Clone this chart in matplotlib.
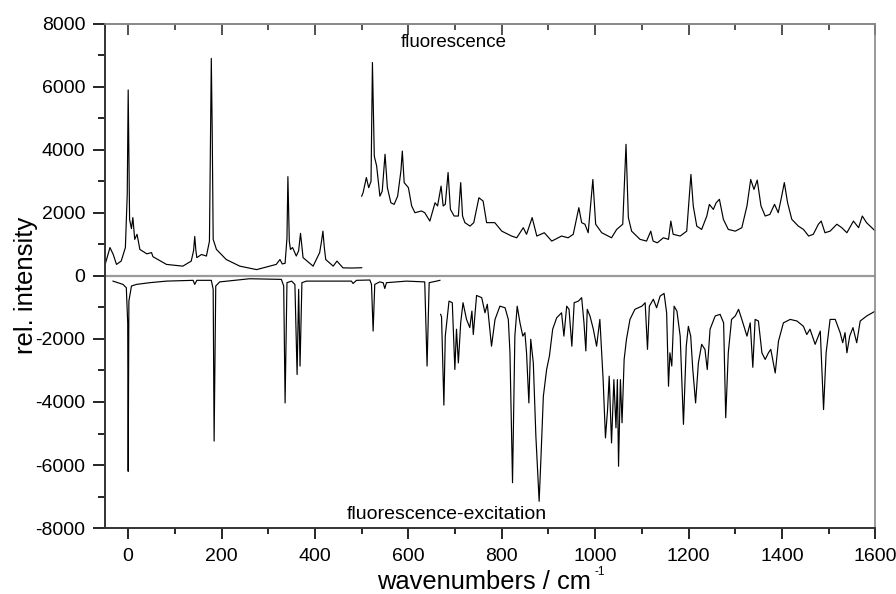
import matplotlib
matplotlib.use("Agg")
import matplotlib.pyplot as plt
from matplotlib.ticker import MultipleLocator

plt.rcParams['font.family'] = ['Liberation Sans', 'DejaVu Sans']

# Fluorescence, low-frequency segment
fl1_x = [-50, -39, -32, -25, -15, -6, -2, 0, 3, 7, 10, 14, 19, 25, 40, 50, 53, 82, 117, 135, 140, 142.5, 145, 147,
         157, 167.5, 174, 178, 180, 182, 189, 210, 239, 275, 317, 325, 330, 336, 340, 342, 345, 347.5, 352, 360,
         365, 369, 374.5, 396, 410, 414, 417, 420, 423, 439, 447, 460, 480, 500]
fl1_y = [330, 900, 680, 365, 470, 900, 2600, 5900, 1790, 1500, 1850, 1160, 1320, 840, 700, 740, 610, 365, 310, 470,
         800, 1250, 800, 580, 680, 630, 1100, 6900, 4500, 1160, 840, 520, 310, 200, 365, 520, 380, 400, 1200, 3150,
         1100, 840, 900, 630, 800, 1350, 580, 310, 740, 1100, 1420, 900, 520, 310, 470, 255, 250, 260]

# Fluorescence, high-frequency segment
fl2_x = [500, 503, 510, 515, 520, 523, 527, 532, 539, 544, 550, 555, 562.5, 569.5, 577, 584, 587, 591, 600, 607,
         614, 628, 635, 646, 657, 662.5, 670, 674.5, 679, 685, 690, 698, 707, 712, 716, 721, 732, 740, 751, 760,
         767.5, 778, 785, 800, 821, 832, 846, 853, 865, 875, 891, 907, 928, 942, 953, 965, 971, 978, 985, 995,
         1001, 1014, 1035, 1046, 1059, 1066, 1071, 1078, 1096, 1110, 1119, 1124, 1133, 1146, 1157, 1162, 1167,
         1182, 1196, 1205, 1210, 1217.5, 1228, 1239, 1244.5, 1253, 1259, 1266, 1274.5, 1285, 1300, 1314, 1325,
         1333, 1340, 1347, 1355, 1364, 1374, 1384, 1392, 1398, 1405, 1412, 1421, 1435, 1446, 1457, 1467, 1478,
         1484, 1492, 1503, 1517.5, 1528, 1539, 1553, 1564, 1572, 1581, 1600]
fl2_y = [2530, 2640, 3120, 2800, 3000, 6770, 3800, 3490, 2530, 2690, 3860, 2800, 2320, 2270, 2530, 3330, 3960, 2960,
         2800, 2220, 2005, 2060, 2005, 1740, 2320, 2220, 2850, 2220, 2270, 3280, 2110, 1900, 1900, 2960, 1900, 1690,
         1580, 1690, 2480, 2375, 1690, 1690, 1690, 1420, 1265, 1210, 1530, 1320, 1850, 1265, 1370, 1105, 1265, 1210,
         1320, 2165, 1690, 1640, 1370, 3060, 1640, 1370, 1210, 1475, 1640, 4175, 1850, 1420, 1160, 1105, 1420, 1105,
         1050, 1210, 1160, 1740, 1320, 1265, 1420, 3220, 2220, 1580, 1475, 1900, 2270, 2110, 2320, 2430, 1795, 1475,
         1420, 1530, 2220, 3060, 2745, 3040, 2220, 1900, 1950, 2270, 2005, 2430, 2960, 2320, 1795, 1580, 1475, 1265,
         1320, 1640, 1740, 1370, 1420, 1640, 1530, 1370, 1740, 1530, 1900, 1690, 1420]

# Fluorescence-excitation, low-frequency segment
ex1_x = [-32.5, -11, -4, -1, 0, 1.5, 7, 17.5, 46, 82, 139, 142.5, 147, 178, 182, 184, 187.5, 196, 260, 328, 333,
         336, 340, 350, 357, 361.7, 365, 368, 372, 381.5, 478, 481.5, 489, 517.5, 521, 524.5, 528, 538.5, 546,
         549.5, 553, 596, 635, 640, 644.5, 660, 667.5]
ex1_y = [-165, -270, -375, -1500, -6200, -800, -320, -270, -215, -165, -140, -270, -140, -140, -425, -5240, -320,
         -190, -90, -110, -320, -4030, -215, -165, -270, -3130, -425, -2860, -215, -165, -165, -240, -140, -130,
         -270, -1750, -270, -190, -215, -400, -215, -165, -190, -2860, -215, -165, -140]

# Fluorescence-excitation, high-frequency segment
ex2_x = [669, 671, 676, 679, 687, 694, 699.5, 703, 707, 712, 717, 724.5, 731.5, 736, 739, 746, 757, 764, 769, 778,
         785.5, 796, 807, 814, 817.5, 823, 828, 833, 839, 845, 849.5, 853, 858, 862, 867.5, 873, 880, 884, 889,
         896, 902, 909, 917.5, 928, 933, 939, 944, 950, 955, 964, 971, 976, 980, 983, 989, 996, 1003, 1010, 1017,
         1022, 1026.5, 1030, 1035, 1040, 1044.5, 1047.5, 1050, 1054, 1057.5, 1062, 1067, 1074.5, 1085, 1100,
         1107, 1112, 1116, 1124.5, 1131.5, 1139, 1147.5, 1153, 1157, 1160, 1164, 1169, 1175, 1182, 1189, 1195,
         1199.5, 1204.5, 1209, 1215, 1221, 1228, 1235, 1240, 1246, 1257, 1267.5, 1275, 1279.5, 1285, 1292, 1300,
         1307, 1314, 1325, 1332, 1337.5, 1342.5, 1349.5, 1357, 1364, 1371, 1376, 1385.5, 1392.5, 1403, 1417.5,
         1432, 1446, 1453, 1460, 1471, 1482, 1489, 1494.5, 1503, 1514, 1524.5, 1530, 1535, 1539, 1545, 1552,
         1560, 1567.5, 1581.5, 1600]
ex2_y = [-1220, -1300, -4100, -1910, -800, -850, -2970, -1690, -2760, -1490, -850, -1380, -1640, -1115, -1860,
         -620, -690, -1170, -900, -2230, -1380, -960, -1010, -1380, -2440, -6560, -1910, -960, -1490, -1910, -1800,
         -2440, -4030, -2010, -2760, -5090, -7150, -5720, -3820, -2970, -2540, -1690, -1330, -1170, -1910, -960,
         -1060, -2230, -850, -800, -690, -1490, -2380, -1060, -1280, -1690, -2230, -1380, -3290, -5140, -4240,
         -3180, -5300, -3290, -4820, -3290, -6040, -3290, -4660, -2650, -2010, -1380, -1060, -960, -850, -2330,
         -960, -740, -1010, -640, -555, -1170, -3500, -2440, -2860, -960, -1115, -1910, -4710, -2230, -1600, -1910,
         -2970, -4030, -2760, -2170, -2330, -2970, -1690, -1270, -1220, -1490, -4500, -2440, -1380, -1270, -1060,
         -1380, -1910, -1490, -2900, -1380, -1430, -2440, -2650, -2440, -2330, -3080, -2070, -1490, -1380, -1430,
         -1600, -1860, -1690, -2170, -1750, -4240, -2440, -1380, -1380, -1800, -2120, -1800, -2440, -1910, -1640,
         -2120, -1430, -1270, -1115]

x_ticks = [0, 200, 400, 600, 800, 1000, 1200, 1400, 1600]
y_ticks = [-8000, -6000, -4000, -2000, 0, 2000, 4000, 6000, 8000]

fig = plt.figure(figsize=(8.96, 5.94), dpi=100)
ax = fig.add_axes([0.117, 0.111, 0.860, 0.849])

ax.axhline(0, color='#9a9a9a', lw=1.6, zorder=1)
for xs, ys in [(fl1_x, fl1_y), (fl2_x, fl2_y), (ex1_x, ex1_y), (ex2_x, ex2_y)]:
    ax.plot(xs, ys, color='black', lw=0.85, zorder=2)

ax.set_xlim(-50, 1600)
ax.set_ylim(-8000, 8000)
ax.set_xticks(x_ticks)
ax.set_yticks(y_ticks)
ax.set_xticklabels([str(v) for v in x_ticks], fontsize=14)
ax.set_yticklabels([str(v) for v in y_ticks], fontsize=14)
ax.xaxis.set_minor_locator(MultipleLocator(100))
ax.yaxis.set_minor_locator(MultipleLocator(1000))
ax.tick_params(axis='x', which='major', direction='out', bottom=True, length=8, width=1.2, pad=6)
ax.tick_params(axis='x', which='minor', direction='out', bottom=True, length=4, width=1.2)
ax.tick_params(axis='y', which='major', direction='out', length=9, width=1.2, pad=5)
ax.tick_params(axis='y', which='minor', direction='out', length=5, width=1.2)

# inward ticks along the top edge
top = ax.secondary_xaxis('top')
top.set_xticks(x_ticks)
top.set_xticklabels([])
top.xaxis.set_minor_locator(MultipleLocator(100))
top.tick_params(axis='x', which='major', direction='in', length=8, width=1.2, color='#333333')
top.tick_params(axis='x', which='minor', direction='in', length=4, width=1.2, color='#333333')
top.spines['top'].set_linewidth(1.2)
top.spines['top'].set_color('#888888')

for side in ['left', 'bottom']:
    ax.spines[side].set_linewidth(1.4)
    ax.spines[side].set_color('#333333')
for side in ['top', 'right']:
    ax.spines[side].set_linewidth(1.2)
    ax.spines[side].set_color('#888888')

fig.text(0.029, 0.520, 'rel. intensity', fontsize=18.5, rotation=90, ha='center', va='center')
base_y = 0.008
xl = fig.text(0.4208, base_y, 'wavenumbers / cm', fontsize=18.4, ha='left', va='baseline')
fig.canvas.draw()
bb = xl.get_window_extent(renderer=fig.canvas.get_renderer())
fig.text((bb.x1 + 4) / fig.bbox.width, base_y + 14 / fig.bbox.height, '-1', fontsize=8.5,
         ha='left', va='baseline')

ax.text(697, 7410, 'fluorescence', fontsize=13.5, ha='center', va='center')
ax.text(682, -7560, 'fluorescence-excitation', fontsize=14, ha='center', va='center')

fig.savefig('out.png', dpi=100)
